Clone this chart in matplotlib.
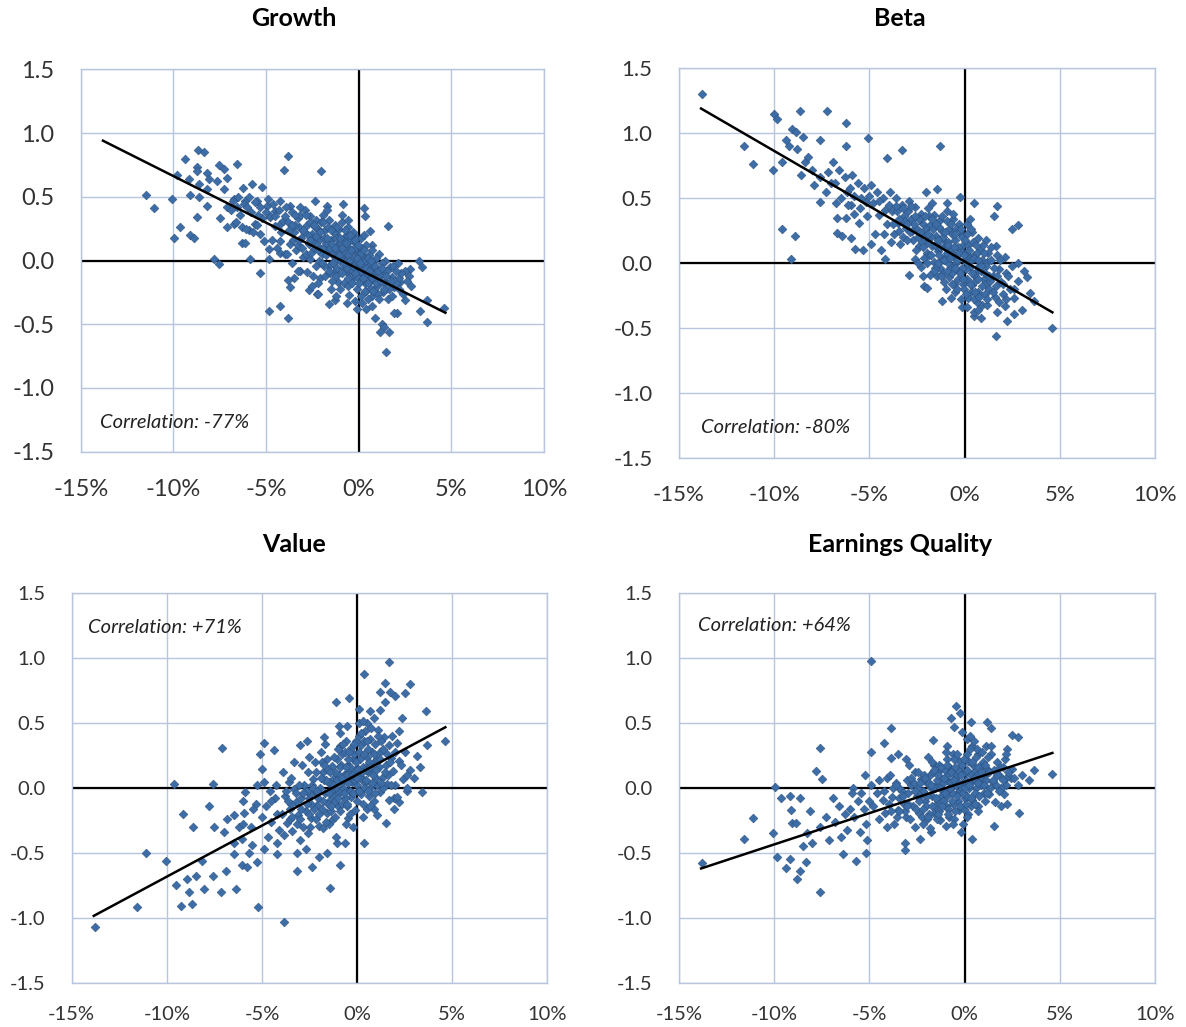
import matplotlib
matplotlib.use("Agg")
import matplotlib.pyplot as plt

plt.rcParams['font.family'] = ['Lato', 'DejaVu Sans']

# ---- data (x in %, y in score units) ----
growth_pts = [
    (-11.5, 0.51), (-11.06, 0.41), (-10.07, 0.48), (-9.98, 0.18), (-9.62, 0.26), (-9.08, 0.20),
    (-8.9, 0.18), (-9.39, 0.80), (-8.69, 0.87), (-8.36, 0.85), (-8.72, 0.73), (-8.72, 0.70),
    (-8.18, 0.69), (-7.55, 0.75), (-7.28, 0.72), (-6.56, 0.76), (-9.8, 0.67), (-9.17, 0.64),
    (-8.63, 0.60), (-8.09, 0.64), (-7.64, 0.62), (-7.1, 0.65), (-8.18, 0.56), (-9.08, 0.51),
    (-8.63, 0.50), (-8.18, 0.43), (-8.72, 0.34), (-7.82, 0.01), (-7.55, -0.03), (-5.85, 0.01),
    (-5.31, -0.10), (-4.86, 0.01), (-6.3, 0.14), (-6.12, 0.14), (-5.31, 0.21), (-4.86, 0.09),
    (-4.23, 0.06), (-4.86, -0.40), (-4.26, -0.36), (-3.83, -0.45), (-3.83, 0.82), (-4.05, 0.71),
    (-2.01, 0.70), (-6.24, 0.57), (-5.76, 0.60), (-5.22, 0.58), (-7.28, 0.56), (-7.1, 0.42),
    (-6.74, 0.48), (-6.56, 0.42), (-6.12, 0.47), (-7.46, 0.33), (-7.1, 0.26), (-6.74, 0.29),
    (-6.3, 0.26), (-5.94, 0.24), (-5.58, 0.29), (-5.49, 0.47), (-4.95, 0.43), (-4.5, 0.39),
    (-4.23, 0.47), (-4.77, 0.34), (-4.23, 0.29), (-3.69, 0.43), (-3.15, 0.42), (-2.34, 0.47),
    (-1.71, 0.43), (-0.85, 0.44), (0.31, 0.41), (0.36, 0.35), (0.63, 0.23), (0.72, 0.12),
    (1.58, 0.27), (-0.27, 0.20), (3.24, 0.0), (3.42, -0.05), (2.79, -0.07), (2.7, -0.12),
    (2.25, -0.17), (2.52, -0.31), (3.33, -0.40), (3.69, -0.48), (4.59, -0.37), (3.69, -0.31),
    (2.07, -0.41), (1.89, -0.41), (1.26, -0.50), (1.35, -0.52), (1.17, -0.56), (1.62, -0.56),
    (1.49, -0.72), (0.9, -0.45), (0.41, -0.38), (-0.09, -0.38), (-0.63, -0.33), (-1.26, -0.31),
    (-1.62, -0.34), (-2.25, -0.26), (-2.7, -0.23), (-3.69, -0.21), (-3.51, -0.14), (-3.15, -0.08),
    (-6.8, 0.47), (-6.5, 0.50), (-6.2, 0.44), (-6.9, 0.40), (-6.4, 0.36), (-6.6, 0.30), (-6.1, 0.25),
    (-5.9, 0.50), (-5.6, 0.46), (-5.3, 0.42), (-5.8, 0.38), (-5.2, 0.33), (-5.5, 0.28), (-5.7, 0.22),
    (-5.1, 0.15), (-4.9, 0.48), (-4.6, 0.44), (-4.3, 0.40), (-4.8, 0.35), (-4.1, 0.31), (-4.5, 0.27),
    (-4.2, 0.22), (-4.7, 0.16), (-4.4, 0.10), (-4.0, 0.05), (-3.9, 0.42), (-3.6, 0.38), (-3.3, 0.33),
    (-3.8, 0.30), (-3.2, 0.26), (-3.5, 0.22), (-3.1, 0.18), (-3.7, 0.13), (-3.4, 0.08), (-3.0, 0.03),
    (-3.6, -0.02), (-3.3, -0.08), (-3.8, -0.15), (-2.9, 0.40), (-2.6, 0.35), (-2.3, 0.32), (-2.8, 0.28),
    (-2.2, 0.25), (-2.5, 0.21), (-2.1, 0.17), (-2.7, 0.13), (-2.4, 0.09), (-2.0, 0.05), (-2.6, 0.01),
    (-2.3, -0.04), (-2.8, -0.09), (-2.1, -0.14), (-2.5, -0.20), (-2.2, -0.26), (-1.9, 0.36), (-1.6, 0.32),
    (-1.3, 0.28), (-1.8, 0.24), (-1.2, 0.20), (-1.5, 0.16), (-1.1, 0.12), (-1.7, 0.08), (-1.4, 0.04),
    (-1.0, 0.00), (-1.6, -0.04), (-1.3, -0.08), (-1.8, -0.12), (-1.1, -0.17), (-1.5, -0.22), (-1.2, -0.28),
    (-0.9, 0.30), (-0.6, 0.26), (-0.3, 0.22), (-0.8, 0.18), (-0.2, 0.14), (-0.5, 0.10), (-0.1, 0.06),
    (-0.7, 0.02), (-0.4, -0.02), (0.0, -0.06), (-0.6, -0.10), (-0.3, -0.14), (-0.8, -0.18), (-0.1, -0.22),
    (-0.5, -0.27), (-0.2, -0.32), (0.1, 0.18), (0.4, 0.12), (0.7, 0.08), (0.2, 0.04), (0.8, 0.00),
    (0.5, -0.04), (0.9, -0.08), (0.3, -0.12), (0.6, -0.16), (1.0, -0.20), (0.4, -0.24), (0.7, -0.28),
    (0.2, -0.33), (1.1, 0.05), (1.4, 0.00), (1.7, -0.05), (1.2, -0.09), (1.8, -0.13), (1.5, -0.17),
    (1.9, -0.21), (1.3, -0.25), (1.6, -0.30), (2.1, -0.02), (2.5, -0.08), (2.2, -0.14), (2.8, -0.20),
    (2.4, -0.26), (-2.45, 0.15), (-1.95, 0.10), (-1.45, 0.06), (-0.95, 0.03), (-0.45, -0.04),
    (0.05, -0.09), (0.55, -0.12), (1.05, -0.15), (-1.25, 0.18), (-0.75, 0.10), (-0.25, 0.02),
    (0.25, -0.05), (0.75, -0.10), (-1.75, 0.14), (-2.75, 0.20), (-3.25, 0.12),
]

growth_core2 = [
    (-3.95, 0.35), (-3.75, 0.24), (-3.55, 0.16), (-3.45, 0.28), (-3.15, 0.36), (-3.05, 0.10),
    (-2.95, 0.22), (-2.85, 0.05), (-2.65, 0.30), (-2.55, 0.06), (-2.35, 0.26), (-2.25, 0.12),
    (-2.15, 0.00), (-2.05, 0.30), (-1.85, 0.18), (-1.85, -0.04), (-1.65, 0.26), (-1.55, 0.10),
    (-1.55, -0.10), (-1.35, 0.22), (-1.35, 0.00), (-1.15, 0.08), (-1.15, -0.06), (-1.05, 0.25),
    (-0.95, 0.14), (-0.85, -0.06), (-0.85, 0.06), (-0.65, 0.20), (-0.65, -0.06), (-0.55, 0.04),
    (-0.45, 0.16), (-0.35, -0.08), (-0.35, 0.08), (-0.15, -0.02), (-0.15, 0.10), (-0.05, -0.14),
    (0.05, 0.02), (0.15, -0.08), (0.15, 0.10), (0.35, -0.18), (0.35, 0.00), (0.45, -0.10),
    (0.55, 0.04), (0.65, -0.22), (0.65, -0.06), (0.85, -0.14), (0.95, 0.02), (1.05, -0.26),
    (1.15, -0.12), (1.25, -0.02), (1.35, -0.18), (1.55, -0.08), (1.65, -0.22), (1.85, -0.04),
    (2.0, -0.18), (2.3, -0.10), (2.6, -0.16), (-0.55, -0.20), (-1.45, -0.16), (-2.45, -0.12),
    (0.1, -0.28), (0.5, -0.30), (-0.9, 0.36), (-1.7, 0.40), (-4.5, 0.35), (-5.0, 0.38),
    (-5.45, 0.36), (-6.0, 0.42), (-4.25, 0.15), (-3.85, 0.05),
]

growth_core3 = [
    (-2.42, 0.28), (-2.32, 0.19), (-2.18, 0.08), (-2.08, 0.22), (-1.98, -0.02), (-1.92, 0.30),
    (-1.78, 0.04), (-1.72, 0.18), (-1.62, -0.08), (-1.48, 0.24), (-1.42, 0.13), (-1.38, -0.02),
    (-1.28, 0.10), (-1.22, -0.12), (-1.18, 0.26), (-1.08, 0.04), (-1.02, 0.18), (-0.92, -0.10),
    (-0.88, 0.10), (-0.78, -0.02), (-0.72, 0.24), (-0.68, 0.14), (-0.58, -0.14), (-0.52, 0.00),
    (-0.48, 0.20), (-0.42, 0.08), (-0.38, -0.18), (-0.28, -0.04), (-0.22, 0.16), (-0.18, -0.10),
    (-0.08, 0.02), (-0.02, 0.12), (0.02, -0.18), (0.08, -0.02), (0.12, 0.06), (0.22, -0.14),
    (0.28, 0.08), (0.32, -0.24), (0.38, -0.06), (0.48, 0.02), (0.52, -0.18), (0.58, -0.08),
    (0.68, 0.00), (0.72, -0.14), (0.78, -0.24), (0.88, -0.04), (0.92, -0.18), (1.02, -0.08),
    (1.08, -0.30), (1.18, -0.16), (1.28, -0.06), (1.38, -0.22), (1.48, -0.12), (1.72, -0.16),
    (2.02, -0.08), (-2.62, 0.16), (-2.82, 0.36), (-3.02, 0.24), (-3.22, 0.16), (-3.42, 0.36),
    (-3.62, 0.28), (-2.2, -0.18), (-1.0, -0.22), (-0.6, 0.32), (0.3, 0.20), (0.7, -0.36),
    (1.8, -0.28), (2.2, -0.22),
]

beta_pts = [
    (-13.78, 1.30), (-11.59, 0.90), (-11.12, 0.76), (-10.07, 0.72), (-10.02, 1.15), (-9.84, 1.11),
    (-8.62, 1.17), (-7.22, 1.17), (-6.22, 1.08), (-9.09, 1.03), (-8.88, 1.01), (-8.49, 0.97),
    (-9.4, 0.95), (-9.23, 0.90), (-8.79, 0.88), (-7.57, 0.95), (-6.22, 0.90), (-5.08, 0.96),
    (-3.28, 0.87), (-1.30, 0.90), (-4.06, 0.81), (-9.58, 0.78), (-9.61, 0.26), (-8.91, 0.21),
    (-9.14, 0.03), (-6.69, 0.23), (-6.43, 0.21), (-5.99, 0.19), (-5.78, 0.11), (-5.32, 0.10),
    (-4.9, 0.15), (-4.41, 0.10), (-4.2, 0.03), (-6.69, 0.35), (-6.25, 0.35), (-5.81, 0.38),
    (-5.52, 0.31), (-7.57, 0.47), (-6.78, 0.46), (-5.95, 0.45), (-2.92, -0.09), (-2.14, -0.18),
    (-1.96, -0.19), (-1.17, -0.29), (-0.74, -0.27), (-0.12, -0.34), (0.49, -0.41), (0.88, -0.42),
    (1.63, -0.56), (2.24, -0.45), (2.59, -0.39), (3.03, -0.36), (3.64, -0.29), (3.42, -0.23),
    (3.29, -0.11), (3.12, -0.06), (2.82, 0.0), (2.5, 0.26), (2.82, 0.29), (1.72, 0.44),
    (1.54, 0.36), (1.63, 0.13), (0.49, 0.46), (-0.25, 0.51), (-1.47, 0.57), (-2.05, 0.55),
    (4.61, -0.50), (-8.4, 0.78), (-8.0, 0.72), (-7.6, 0.66), (-7.2, 0.70), (-7.9, 0.60),
    (-8.6, 0.68), (-7.3, 0.55), (-7.0, 0.62), (-8.2, 0.82),
    (-6.9, 0.78), (-6.6, 0.72), (-6.3, 0.66), (-6.8, 0.62), (-6.2, 0.55), (-6.5, 0.50), (-6.1, 0.45),
    (-5.9, 0.68), (-5.6, 0.62), (-5.3, 0.58), (-5.8, 0.52), (-5.2, 0.47), (-5.5, 0.42), (-5.1, 0.36),
    (-4.9, 0.60), (-4.6, 0.55), (-4.3, 0.50), (-4.8, 0.46), (-4.2, 0.41), (-4.5, 0.37), (-4.1, 0.30),
    (-4.7, 0.22), (-3.9, 0.55), (-3.6, 0.50), (-3.3, 0.45), (-3.8, 0.40), (-3.2, 0.36), (-3.5, 0.31),
    (-3.1, 0.27), (-3.7, 0.22), (-3.4, 0.15), (-2.9, 0.48), (-2.6, 0.43), (-2.3, 0.38), (-2.8, 0.34),
    (-2.2, 0.30), (-2.5, 0.26), (-2.1, 0.22), (-2.7, 0.18), (-2.4, 0.13), (-2.0, 0.08), (-2.6, 0.03),
    (-2.3, -0.03), (-1.9, 0.42), (-1.6, 0.37), (-1.3, 0.33), (-1.8, 0.29), (-1.2, 0.25), (-1.5, 0.21),
    (-1.1, 0.17), (-1.7, 0.13), (-1.4, 0.09), (-1.0, 0.05), (-1.6, 0.01), (-1.3, -0.04), (-1.8, -0.09),
    (-1.1, -0.15), (-0.9, 0.40), (-0.6, 0.34), (-0.3, 0.30), (-0.8, 0.26), (-0.2, 0.22), (-0.5, 0.18),
    (-0.1, 0.14), (-0.7, 0.10), (-0.4, 0.06), (0.0, 0.02), (-0.6, -0.02), (-0.3, -0.06), (-0.8, -0.11),
    (-0.1, -0.16), (-0.5, -0.22), (-0.2, -0.28), (0.1, 0.30), (0.4, 0.24), (0.7, 0.19), (0.2, 0.14),
    (0.8, 0.10), (0.5, 0.06), (0.9, 0.02), (0.3, -0.03), (0.6, -0.07), (1.0, -0.12), (0.4, -0.17),
    (0.7, -0.22), (0.2, -0.27), (0.9, -0.32), (0.5, -0.38), (1.1, 0.18), (1.4, 0.12), (1.7, 0.06),
    (1.2, 0.01), (1.8, -0.05), (1.5, -0.10), (1.9, -0.15), (1.3, -0.20), (1.6, -0.26), (1.2, -0.32),
    (1.7, -0.38), (2.1, 0.05), (2.5, -0.02), (2.2, -0.08), (2.8, -0.14), (2.4, -0.20), (2.6, -0.27),
    (2.1, -0.33), (-2.45, 0.20), (-1.95, 0.16), (-1.45, 0.12), (-0.95, 0.08), (-0.45, 0.0),
    (0.05, -0.05), (0.55, -0.10), (1.05, -0.16), (-1.25, 0.02), (-0.75, -0.05), (-0.25, 0.10),
    (0.25, 0.05), (0.75, -0.02), (-1.75, 0.20), (-2.75, 0.25), (-3.25, 0.20),
]

beta_core2 = [
    (-3.95, 0.45), (-3.75, 0.30), (-3.55, 0.40), (-3.45, 0.25), (-3.15, 0.32), (-3.05, 0.18),
    (-2.95, 0.40), (-2.85, 0.24), (-2.65, 0.30), (-2.55, 0.10), (-2.35, 0.34), (-2.25, 0.16),
    (-2.15, 0.04), (-2.05, 0.26), (-1.85, 0.36), (-1.85, 0.06), (-1.65, 0.26), (-1.55, 0.14),
    (-1.55, -0.04), (-1.35, 0.28), (-1.35, 0.06), (-1.15, 0.20), (-1.15, -0.08), (-1.05, 0.12),
    (-0.95, 0.32), (-0.85, 0.00), (-0.85, 0.16), (-0.65, 0.22), (-0.65, -0.08), (-0.55, 0.06),
    (-0.45, 0.26), (-0.35, -0.12), (-0.35, 0.12), (-0.15, -0.04), (-0.15, 0.20), (-0.05, -0.20),
    (0.05, 0.08), (0.15, -0.12), (0.15, 0.22), (0.35, -0.22), (0.35, 0.02), (0.45, 0.16),
    (0.55, -0.14), (0.65, 0.08), (0.65, -0.30), (0.85, -0.06), (0.95, 0.14), (1.05, -0.24),
    (1.15, -0.02), (1.25, 0.08), (1.35, -0.14), (1.55, -0.04), (1.65, -0.18), (1.85, 0.02),
    (2.0, -0.24), (2.3, -0.10), (2.6, -0.20), (-0.55, -0.16), (-1.45, -0.10), (-2.45, 0.00),
    (0.1, -0.34), (0.5, -0.28), (-0.9, 0.46), (-1.7, 0.46), (-4.5, 0.48), (-5.0, 0.52),
    (-5.45, 0.50), (-6.0, 0.58), (-4.25, 0.22), (-3.85, 0.16),
]

beta_core3 = [
    (-2.42, 0.34), (-2.32, 0.24), (-2.18, 0.12), (-2.08, 0.36), (-1.98, 0.00), (-1.92, 0.22),
    (-1.78, 0.06), (-1.72, 0.34), (-1.62, -0.06), (-1.48, 0.30), (-1.42, 0.18), (-1.38, 0.00),
    (-1.28, 0.12), (-1.22, -0.10), (-1.18, 0.36), (-1.08, 0.02), (-1.02, 0.24), (-0.92, -0.06),
    (-0.88, 0.14), (-0.78, 0.04), (-0.72, 0.30), (-0.68, -0.16), (-0.58, 0.12), (-0.52, -0.04),
    (-0.48, 0.22), (-0.42, 0.02), (-0.38, -0.20), (-0.28, 0.08), (-0.22, -0.08), (-0.18, 0.26),
    (-0.08, -0.12), (-0.02, 0.06), (0.02, 0.18), (0.08, -0.24), (0.12, 0.00), (0.22, 0.10),
    (0.28, -0.16), (0.32, 0.26), (0.38, -0.08), (0.48, 0.04), (0.52, -0.22), (0.58, 0.14),
    (0.68, -0.12), (0.72, 0.02), (0.78, -0.26), (0.88, -0.02), (0.92, -0.18), (1.02, 0.08),
    (1.08, -0.08), (1.18, -0.28), (1.28, -0.10), (1.38, 0.02), (1.48, -0.22), (1.72, -0.10),
    (2.02, -0.16), (-2.62, 0.36), (-2.82, 0.44), (-3.02, 0.30), (-3.22, 0.42), (-3.42, 0.34),
    (-3.62, 0.44), (-2.2, -0.10), (-1.0, -0.20), (-0.6, 0.38), (0.3, 0.34), (0.7, -0.36),
    (1.8, -0.30), (2.2, -0.28),
]

value_pts = [
    (-13.75, -1.07), (-11.56, -0.92), (-11.12, -0.50), (-10.02, -0.56), (-9.54, -0.75), (-9.23, -0.91),
    (-9.63, 0.03), (-9.14, -0.20), (-8.63, -0.30), (-7.57, 0.03), (-7.09, 0.31), (-7.76, -0.14),
    (-8.67, -0.89), (-8.84, -0.80), (-8.93, -0.70), (-8.49, -0.68), (-8.14, -0.56), (-8.06, -0.78),
    (-7.57, -0.68), (-7.15, -0.80), (-6.36, -0.78), (-6.87, -0.64), (-6.45, -0.51), (-6.04, -0.59),
    (-5.78, -0.61), (-5.25, -0.57), (-5.22, -0.92), (-3.85, -1.03), (-4.2, -0.51), (-3.15, -0.64),
    (-2.36, -0.61), (-1.4, -0.77), (-0.88, -0.59), (0.35, -0.42), (1.54, -0.27), (1.93, -0.16),
    (3.42, -0.03), (2.63, -0.02), (2.98, 0.08), (3.33, 0.16), (3.15, 0.25), (3.68, 0.33),
    (4.64, 0.36), (3.64, 0.59), (2.8, 0.80), (2.54, 0.73), (2.36, 0.54), (1.66, 0.97),
    (0.35, 0.88), (1.45, 0.81), (1.19, 0.74), (1.75, 0.74), (2.01, 0.71), (1.49, 0.66),
    (1.19, 0.60), (-0.44, 0.69), (-1.09, 0.66), (0.09, 0.61), (0.7, 0.59), (0.88, 0.54),
    (-0.53, 0.48), (-0.96, 0.48), (-1.75, 0.39), (-2.63, 0.36), (-3.01, 0.33), (-4.38, 0.29),
    (-4.9, 0.35), (-5.08, 0.26), (-5.0, 0.15), (-3.33, 0.20), (-2.54, 0.24), (-5.25, 0.02),
    (-5.87, -0.03), (-5.99, -0.10), (2.19, -0.11), (1.93, -0.08), (1.05, -0.21), (0.88, -0.16),
    (-0.61, -0.42), (-1.05, -0.42), (-1.58, -0.50), (-2.01, -0.53), (-2.71, -0.47), (-3.15, -0.50),
    (-4.2, -0.42), (-4.9, -0.47), (-5.52, -0.44), (-6.04, -0.39), (-6.48, -0.42), (-7.0, -0.34),
    (-7.53, -0.30), (-6.48, -0.21), (-6.83, -0.24), (-5.95, -0.19), (-5.6, -0.30), (-5.3, -0.12),
    (-5.7, -0.50), (-6.2, -0.30),
    (-4.9, 0.05), (-4.6, -0.02), (-4.3, -0.08), (-4.8, -0.14), (-4.2, -0.20), (-4.5, -0.26), (-4.1, -0.32),
    (-4.7, -0.38), (-3.9, 0.12), (-3.6, 0.05), (-3.3, -0.01), (-3.8, -0.06), (-3.2, -0.11), (-3.5, -0.16),
    (-3.1, -0.21), (-3.7, -0.27), (-3.4, -0.33), (-3.0, -0.40), (-2.9, 0.18), (-2.6, 0.12), (-2.3, 0.07),
    (-2.8, 0.02), (-2.2, -0.03), (-2.5, -0.08), (-2.1, -0.13), (-2.7, -0.18), (-2.4, -0.23), (-2.0, -0.29),
    (-2.6, -0.35), (-1.9, 0.28), (-1.6, 0.22), (-1.3, 0.17), (-1.8, 0.12), (-1.2, 0.08), (-1.5, 0.04),
    (-1.1, 0.00), (-1.7, -0.04), (-1.4, -0.09), (-1.0, -0.14), (-1.6, -0.19), (-1.3, -0.25), (-1.8, -0.31),
    (-1.1, -0.38), (-0.9, 0.42), (-0.6, 0.36), (-0.3, 0.31), (-0.8, 0.26), (-0.2, 0.22), (-0.5, 0.18),
    (-0.1, 0.14), (-0.7, 0.10), (-0.4, 0.06), (0.0, 0.02), (-0.6, -0.02), (-0.3, -0.07), (-0.8, -0.12),
    (-0.1, -0.17), (-0.5, -0.23), (-0.2, -0.30), (0.1, 0.50), (0.4, 0.44), (0.7, 0.38), (0.2, 0.33),
    (0.8, 0.28), (0.5, 0.24), (0.9, 0.20), (0.3, 0.16), (0.6, 0.12), (1.0, 0.08), (0.4, 0.04),
    (0.7, 0.00), (0.2, -0.05), (0.9, -0.10), (0.5, -0.16), (0.3, -0.22), (1.1, 0.45), (1.4, 0.39),
    (1.7, 0.33), (1.2, 0.28), (1.8, 0.23), (1.5, 0.18), (1.9, 0.13), (1.3, 0.08), (1.6, 0.03),
    (1.2, -0.03), (1.7, -0.09), (2.1, 0.35), (2.5, 0.28), (2.2, 0.21), (2.8, 0.14), (2.4, 0.07),
    (2.6, 0.00), (2.1, -0.07), (-2.45, -0.05), (-1.95, 0.0), (-1.45, 0.05), (-0.95, 0.10),
    (-0.45, 0.12), (0.05, 0.15), (0.55, 0.18), (1.05, 0.22), (-1.25, -0.05), (-0.75, 0.0),
    (-0.25, 0.05), (0.25, 0.08), (0.75, 0.12), (-3.45, -0.12), (-2.95, -0.08), (-1.75, 0.06),
]

value_core2 = [
    (-3.95, -0.20), (-3.75, -0.02), (-3.55, -0.24), (-3.45, 0.08), (-3.15, -0.28), (-3.05, 0.02),
    (-2.95, -0.16), (-2.85, -0.30), (-2.65, -0.02), (-2.55, -0.20), (-2.35, 0.02), (-2.25, -0.16),
    (-2.15, 0.12), (-2.05, -0.08), (-1.85, 0.20), (-1.85, -0.16), (-1.65, 0.06), (-1.55, -0.12),
    (-1.55, 0.14), (-1.35, -0.02), (-1.35, -0.18), (-1.15, 0.12), (-1.15, -0.10), (-1.05, 0.22),
    (-0.95, -0.04), (-0.85, 0.18), (-0.85, 0.04), (-0.65, 0.28), (-0.65, -0.08), (-0.55, 0.10),
    (-0.45, 0.22), (-0.35, -0.02), (-0.35, 0.16), (-0.15, 0.26), (-0.15, 0.06), (-0.05, 0.36),
    (0.05, -0.02), (0.15, 0.22), (0.15, 0.08), (0.35, 0.36), (0.35, 0.00), (0.45, 0.14),
    (0.55, 0.30), (0.65, -0.06), (0.65, 0.20), (0.85, 0.10), (0.95, 0.34), (1.05, 0.02),
    (1.15, 0.16), (1.25, 0.36), (1.35, 0.00), (1.55, 0.26), (1.65, 0.10), (1.85, 0.40),
    (2.0, 0.02), (2.3, 0.18), (2.6, 0.10), (-0.55, -0.14), (-1.45, -0.28), (-2.45, -0.30),
    (0.1, 0.40), (0.5, 0.50), (-0.9, 0.32), (-1.7, 0.34), (-4.5, -0.10), (-5.0, -0.22),
    (-5.45, -0.16), (-6.0, -0.28), (-4.25, 0.02), (-3.85, -0.36),
]

value_core3 = [
    (-2.42, -0.12), (-2.32, 0.00), (-2.18, -0.24), (-2.08, -0.02), (-1.98, -0.20), (-1.92, 0.08),
    (-1.78, -0.10), (-1.72, 0.18), (-1.62, -0.26), (-1.48, -0.04), (-1.42, 0.12), (-1.38, -0.14),
    (-1.28, 0.02), (-1.22, 0.24), (-1.18, -0.22), (-1.08, 0.06), (-1.02, -0.08), (-0.92, 0.16),
    (-0.88, -0.18), (-0.78, 0.08), (-0.72, 0.34), (-0.68, -0.04), (-0.58, 0.16), (-0.52, -0.12),
    (-0.48, 0.04), (-0.42, 0.28), (-0.38, -0.20), (-0.28, 0.10), (-0.22, -0.04), (-0.18, 0.34),
    (-0.08, 0.20), (-0.02, -0.10), (0.02, 0.08), (0.08, 0.28), (0.12, -0.02), (0.22, 0.42),
    (0.28, 0.12), (0.32, -0.12), (0.38, 0.26), (0.48, 0.06), (0.52, 0.36), (0.58, -0.02),
    (0.68, 0.16), (0.72, 0.46), (0.78, 0.04), (0.88, 0.26), (0.92, -0.04), (1.02, 0.14),
    (1.08, 0.40), (1.18, 0.22), (1.28, 0.04), (1.38, 0.30), (1.48, 0.12), (1.72, 0.20),
    (2.02, 0.28), (-2.62, -0.12), (-2.82, -0.04), (-3.02, -0.24), (-3.22, -0.04), (-3.42, -0.22),
    (-3.62, -0.10), (-2.2, 0.20), (-1.0, 0.30), (-0.6, -0.28), (0.3, 0.52), (0.7, -0.14),
    (1.8, 0.02), (2.2, 0.44),
]

quality_pts = [
    (-13.78, -0.58), (-11.56, -0.39), (-11.12, -0.23), (-9.97, 0.01), (-10.05, -0.35), (-9.84, -0.53),
    (-9.63, -0.08), (-9.18, -0.06), (-9.14, -0.17), (-8.62, -0.08), (-9.05, -0.27), (-8.83, -0.27),
    (-9.4, -0.62), (-9.18, -0.55), (-8.79, -0.70), (-8.65, -0.64), (-8.35, -0.57), (-7.57, -0.80),
    (-7.57, 0.31), (-7.79, 0.13), (-7.48, 0.07), (-6.37, -0.51), (-5.73, -0.56), (-5.2, -0.50),
    (-5.25, 0.10), (-5.87, 0.0), (-4.94, 0.98), (-4.94, 0.28), (-4.24, 0.35), (-3.89, 0.46),
    (-3.89, 0.23), (-3.5, 0.26), (-3.1, 0.22), (-4.06, 0.08), (-3.15, -0.48), (-3.13, -0.42),
    (-2.36, -0.39), (-1.65, 0.37), (-0.74, 0.54), (-0.47, 0.63), (-0.25, 0.58), (-0.56, 0.47),
    (-0.12, 0.43), (0.32, 0.51), (1.16, 0.51), (1.37, 0.46), (2.5, 0.41), (2.82, 0.39),
    (2.24, 0.30), (3.64, 0.14), (3.38, 0.06), (4.61, 0.11), (2.85, -0.19), (2.24, -0.12),
    (1.89, -0.14), (1.54, -0.29), (0.37, -0.39), (-0.21, -0.34), (-1.0, -0.29), (-1.79, -0.34),
    (-1.35, -0.24), (2.42, 0.08), (3.03, 0.10), (2.15, 0.02), (2.07, -0.05), (-8.3, -0.35),
    (-8.0, -0.42), (-7.6, -0.30), (-7.3, -0.22), (-8.1, -0.18), (-7.1, -0.40), (-8.5, -0.45),
    (-6.9, -0.08), (-6.6, -0.14), (-6.3, -0.20), (-6.8, -0.26), (-6.2, -0.32), (-6.5, -0.38),
    (-5.9, -0.04), (-5.6, -0.10), (-5.3, -0.16), (-5.8, -0.22), (-5.2, -0.28), (-5.5, -0.34), (-5.1, -0.40),
    (-4.9, 0.02), (-4.6, -0.04), (-4.3, -0.09), (-4.8, -0.14), (-4.2, -0.19), (-4.5, -0.24), (-4.1, -0.30),
    (-3.9, 0.10), (-3.6, 0.04), (-3.3, -0.02), (-3.8, -0.07), (-3.2, -0.12), (-3.5, -0.17), (-3.1, -0.22),
    (-3.7, -0.28), (-2.9, 0.18), (-2.6, 0.12), (-2.3, 0.07), (-2.8, 0.02), (-2.2, -0.02), (-2.5, -0.06),
    (-2.1, -0.10), (-2.7, -0.14), (-2.4, -0.19), (-2.0, -0.24), (-2.6, -0.30), (-1.9, 0.24), (-1.6, 0.18),
    (-1.3, 0.14), (-1.8, 0.10), (-1.2, 0.06), (-1.5, 0.02), (-1.1, -0.02), (-1.7, -0.06), (-1.4, -0.10),
    (-1.0, -0.14), (-1.6, -0.19), (-1.3, -0.25), (-1.8, -0.31), (-0.9, 0.32), (-0.6, 0.26), (-0.3, 0.21),
    (-0.8, 0.16), (-0.2, 0.12), (-0.5, 0.08), (-0.1, 0.04), (-0.7, 0.00), (-0.4, -0.04), (0.0, -0.08),
    (-0.6, -0.12), (-0.3, -0.17), (-0.8, -0.22), (-0.1, -0.28), (0.1, 0.38), (0.4, 0.32), (0.7, 0.26),
    (0.2, 0.21), (0.8, 0.16), (0.5, 0.12), (0.9, 0.08), (0.3, 0.04), (0.6, 0.00), (1.0, -0.04),
    (0.4, -0.09), (0.7, -0.14), (0.2, -0.20), (1.1, 0.32), (1.4, 0.26), (1.7, 0.20), (1.2, 0.15),
    (1.8, 0.10), (1.5, 0.05), (1.9, 0.00), (1.3, -0.05), (1.6, -0.11), (2.1, 0.22), (2.5, 0.15),
    (2.2, 0.08), (2.8, 0.02), (-2.45, 0.0), (-1.95, 0.04), (-1.45, 0.06), (-0.95, 0.06),
    (-0.45, 0.10), (0.05, 0.12), (0.55, 0.06), (1.05, 0.10), (-1.25, -0.06), (-0.75, 0.04),
    (-0.25, -0.02), (0.25, 0.0), (0.75, 0.04), (-3.45, 0.0), (-2.95, -0.04), (-1.75, 0.0),
]

quality_core2 = [
    (-3.95, -0.12), (-3.75, 0.00), (-3.55, -0.22), (-3.45, -0.08), (-3.15, -0.18), (-3.05, 0.06),
    (-2.95, -0.12), (-2.85, -0.24), (-2.65, 0.04), (-2.55, -0.16), (-2.35, -0.06), (-2.25, -0.22),
    (-2.15, 0.10), (-2.05, -0.14), (-1.85, 0.04), (-1.85, -0.20), (-1.65, 0.12), (-1.55, -0.14),
    (-1.55, 0.00), (-1.35, 0.18), (-1.35, -0.18), (-1.15, 0.04), (-1.15, -0.10), (-1.05, 0.14),
    (-0.95, -0.06), (-0.85, 0.10), (-0.85, -0.16), (-0.65, 0.14), (-0.65, -0.04), (-0.55, 0.22),
    (-0.45, 0.02), (-0.35, -0.10), (-0.35, 0.14), (-0.15, 0.00), (-0.15, 0.18), (-0.05, -0.16),
    (0.05, 0.06), (0.15, -0.06), (0.15, 0.26), (0.35, -0.14), (0.35, 0.10), (0.45, 0.18),
    (0.55, -0.04), (0.65, 0.10), (0.65, 0.30), (0.85, 0.02), (0.95, 0.20), (1.05, -0.10),
    (1.15, 0.06), (1.25, 0.24), (1.35, 0.00), (1.55, 0.14), (1.65, 0.02), (1.85, 0.16),
    (2.0, 0.06), (2.3, 0.12), (2.6, 0.08), (-0.55, -0.24), (-1.45, -0.24), (-2.45, 0.12),
    (0.1, -0.22), (0.5, 0.36), (-0.9, 0.22), (-1.7, 0.20), (-4.5, 0.06), (-5.0, -0.10),
    (-5.45, -0.04), (-6.0, -0.16), (-4.25, -0.02), (-3.85, -0.18),
]

quality_core3 = [
    (-2.42, -0.10), (-2.32, 0.04), (-2.18, -0.16), (-2.08, 0.08), (-1.98, -0.06), (-1.92, -0.22),
    (-1.78, 0.02), (-1.72, -0.14), (-1.62, 0.14), (-1.48, -0.08), (-1.42, 0.10), (-1.38, -0.20),
    (-1.28, 0.00), (-1.22, 0.16), (-1.18, -0.14), (-1.08, 0.08), (-1.02, -0.04), (-0.92, 0.18),
    (-0.88, -0.20), (-0.78, 0.00), (-0.72, 0.12), (-0.68, -0.10), (-0.58, 0.06), (-0.52, -0.18),
    (-0.48, 0.16), (-0.42, -0.06), (-0.38, 0.26), (-0.28, 0.04), (-0.22, -0.14), (-0.18, 0.10),
    (-0.08, -0.04), (-0.02, 0.22), (0.02, 0.00), (0.08, -0.12), (0.12, 0.14), (0.22, 0.02),
    (0.28, 0.30), (0.32, -0.08), (0.38, 0.20), (0.48, 0.08), (0.52, -0.12), (0.58, 0.24),
    (0.68, 0.04), (0.72, 0.16), (0.78, -0.06), (0.88, 0.12), (0.92, 0.28), (1.02, 0.02),
    (1.08, 0.18), (1.18, -0.04), (1.28, 0.12), (1.38, 0.32), (1.48, 0.06), (1.72, 0.10),
    (2.02, 0.16), (-2.62, -0.02), (-2.82, 0.08), (-3.02, -0.14), (-3.22, -0.06), (-3.42, -0.18),
    (-3.62, 0.02), (-2.2, -0.28), (-1.0, 0.28), (-0.6, -0.28), (0.3, 0.40), (0.7, -0.18),
    (1.8, -0.02), (2.2, 0.26),
]

# fitted trend line end points
growth_trend = [(-13.8, 0.94), (4.68, -0.41)]
beta_trend = [(-13.84, 1.19), (4.61, -0.38)]
value_trend = [(-13.84, -0.985), (4.64, 0.468)]
quality_trend = [(-13.84, -0.62), (4.61, 0.27)]

titles = ["Growth", "Beta", "Value", "Earnings Quality"]
notes = ["Correlation: -77%", "Correlation: -80%", "Correlation: +71%", "Correlation: +64%"]

x_ticks = [-15, -10, -5, 0, 5, 10]
x_labels = ["-15%", "-10%", "-5%", "0%", "5%", "10%"]
y_ticks = [-1.5, -1.0, -0.5, 0.0, 0.5, 1.0, 1.5]
y_labels = ["-1.5", "-1.0", "-0.5", "0.0", "0.5", "1.0", "1.5"]

W, H = 1186, 1027
fig = plt.figure(figsize=(W / 100, H / 100), dpi=100)


def px_box(left, top, right, bottom):
    return [left / W, 1 - bottom / H, (right - left) / W, (bottom - top) / H]


panels = [
    (growth_pts + growth_core2 + growth_core3, growth_trend,
     px_box(80.7, 69.3, 544, 451.7), (294, 18), (-13.94, -1.27), 17, 20),
    (beta_pts + beta_core2 + beta_core3, beta_trend,
     px_box(679, 68.3, 1155, 457.7), (900, 18), (-13.87, -1.27), 16, 20),
    (value_pts + value_core2 + value_core3, value_trend,
     px_box(71.7, 593.3, 547.3, 982.7), (294, 545), (-14.12, 1.24), 14.5, 16.5),
    (quality_pts + quality_core2 + quality_core3, quality_trend,
     px_box(679, 593.3, 1155, 982.7), (900, 545), (-13.98, 1.25), 14.5, 16.5),
]

grid_col = "#B7C5DE"
dot_col = "#3D6DA6"

for i, (pts, trend, box, tpos, npos, fs, xpad) in enumerate(panels):
    ax = fig.add_axes(box)
    xs = [p[0] for p in pts]
    ys = [p[1] for p in pts]
    ax.set_xlim(-15, 10)
    ax.set_ylim(-1.5, 1.5)
    ax.set_xticks(x_ticks)
    ax.set_xticklabels(x_labels)
    ax.set_yticks(y_ticks)
    ax.set_yticklabels(y_labels)
    ax.grid(True, color=grid_col, lw=1.0)
    ax.set_axisbelow(True)
    for s in ax.spines.values():
        s.set_color(grid_col)
        s.set_linewidth(1.0)
    ax.tick_params(length=0, labelsize=fs, colors="#333333")
    ax.tick_params(axis="x", pad=xpad)
    ax.tick_params(axis="y", pad=19)
    ax.axhline(0, color="black", lw=1.6, zorder=2)
    ax.axvline(0, color="black", lw=1.6, zorder=2)
    ax.scatter(xs, ys, marker="D", s=20, color=dot_col, edgecolors="#2B5080",
               linewidths=0.4, zorder=3)
    ax.plot([trend[0][0], trend[1][0]], [trend[0][1], trend[1][1]],
            color="black", lw=1.8, zorder=4)
    ax.text(npos[0], npos[1], notes[i], fontsize=14.5, style="italic",
            va="center", ha="left", color="#222222", zorder=5)
    fig.text(tpos[0] / W, 1 - tpos[1] / H, titles[i], fontsize=18, fontweight="bold",
             ha="center", va="center")

fig.savefig("out.png", dpi=100, facecolor="white")
